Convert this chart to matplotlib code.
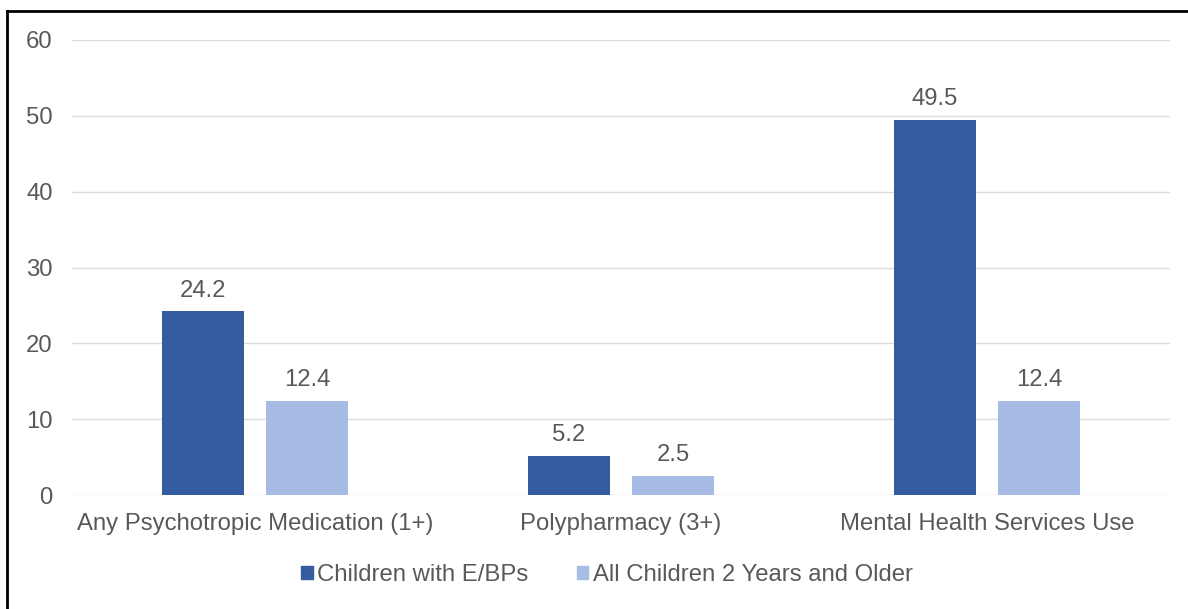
import matplotlib
matplotlib.use("Agg")
import matplotlib.pyplot as plt
from matplotlib.patches import Rectangle
from matplotlib.lines import Line2D
import numpy as np

categories = ["Any Psychotropic Medication (1+)", "Polypharmacy (3+)", "Mental Health Services Use"]
series_names = ["Children with E/BPs", "All Children 2 Years and Older"]
ebp_values = [24.2, 5.2, 49.5]
all_values = [12.4, 2.5, 12.4]
yticks = [0, 10, 20, 30, 40, 50, 60]

dark = "#345C9E"
light = "#A7BCE4"
txt = "#595959"
fs = 17.2

plt.rcParams['font.family'] = ['Liberation Sans', 'DejaVu Sans']

fig = plt.figure(figsize=(11.88, 6.09), dpi=100)
ax = fig.add_axes([72/1188, 1-495/609, (1170-72)/1188, (495-40)/609])

x = np.arange(len(categories))
w = 0.224
off = 0.142
b1 = ax.bar(x - off, ebp_values, w, color=dark, label=series_names[0], zorder=3)
b2 = ax.bar(x + off, all_values, w, color=light, label=series_names[1], zorder=3)

for bars, vals in ((b1, ebp_values), (b2, all_values)):
    for r, v in zip(bars, vals):
        ax.annotate(f"{v:.1f}", (r.get_x() + r.get_width()/2, v), xytext=(0, 7),
                    textcoords="offset points", ha="center", va="bottom",
                    fontsize=fs, color=txt)

ax.set_xlim(-0.5, 2.5)
ax.set_ylim(0, 60)
ax.set_yticks(yticks)
ax.set_yticklabels([str(t) for t in yticks])
ax.set_xticks(x)
ax.set_xticklabels(categories)
ax.tick_params(axis='both', length=0, labelsize=fs, colors=txt)
ax.tick_params(axis='y', pad=14)
ax.tick_params(axis='x', pad=13)
ax.grid(axis='y', color="#DCDCDC", linewidth=1, zorder=0)
for s in ax.spines.values():
    s.set_visible(False)

handles = [Rectangle((0, 0), 1, 1, color=dark), Rectangle((0, 0), 1, 1, color=light)]
fig.legend(handles, series_names, loc="center", bbox_to_anchor=(607/1188, 1-575/609),
           ncol=2, frameon=False, fontsize=fs, labelcolor=txt,
           handlelength=0.5, handleheight=0.5, handletextpad=0.2, columnspacing=2.0)

# figure frame (left and top)
fig.add_artist(Line2D([7/1188, 7/1188], [0, 1-11/609], transform=fig.transFigure, color="black", lw=2))
fig.add_artist(Line2D([7/1188, 1], [1-11/609, 1-11/609], transform=fig.transFigure, color="black", lw=2))

fig.savefig("out.png", dpi=100)
